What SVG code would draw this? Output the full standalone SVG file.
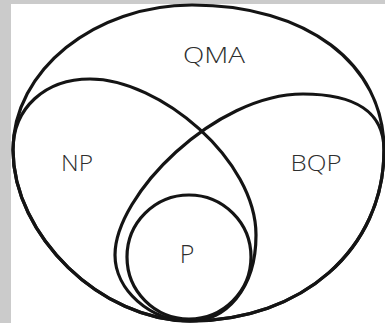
<svg xmlns="http://www.w3.org/2000/svg" width="385" height="323" viewBox="0 0 385 323">
  <style>
    .set { fill: none; stroke: #141414; stroke-width: 3.2; stroke-linejoin: round; }
    .lbl { font-family: "Open Sans", "Noto Sans", "Liberation Sans", sans-serif; font-weight: 300; fill: #2e2e2e; text-anchor: middle; font-size: 22px; }
  </style>
  <rect x="0" y="0" width="385" height="323" fill="#cbcbcb"/>
  <rect x="11" y="4" width="374" height="319" fill="#ffffff"/>
  <g id="QMA">
    <path class="set" d="M13,150 C13,70 95,5 192,5 C306,5 384,63 384,150 C384,249 302,321 190,321 C101.5,321 13,235.5 13,150 Z"/>
    <text class="lbl" x="214" y="62.5" textLength="62" lengthAdjust="spacingAndGlyphs">QMA</text>
  </g>
  <g id="NP">
    <path class="set" d="M13,150 C13,108 45,79 90,79 C160,79 256,160 256,235 C256,290 225,321 190,321 C101.5,321 13,235.5 13,150 Z"/>
    <text class="lbl" x="77" y="171" textLength="32" lengthAdjust="spacingAndGlyphs">NP</text>
  </g>
  <g id="BQP">
    <path class="set" d="M190,321 C150,321 115,290 115,255 C115,195 215,94 303,94 C355,94 384,112 384,150 C384,249 302,321 190,321 Z"/>
    <text class="lbl" x="316" y="171" textLength="51" lengthAdjust="spacingAndGlyphs">BQP</text>
  </g>
  <g id="P">
    <circle class="set" cx="189" cy="257" r="62"/>
    <text class="lbl" x="187" y="263" style="font-size:25px">P</text>
  </g>
  <g id="connectors"/>
</svg>
